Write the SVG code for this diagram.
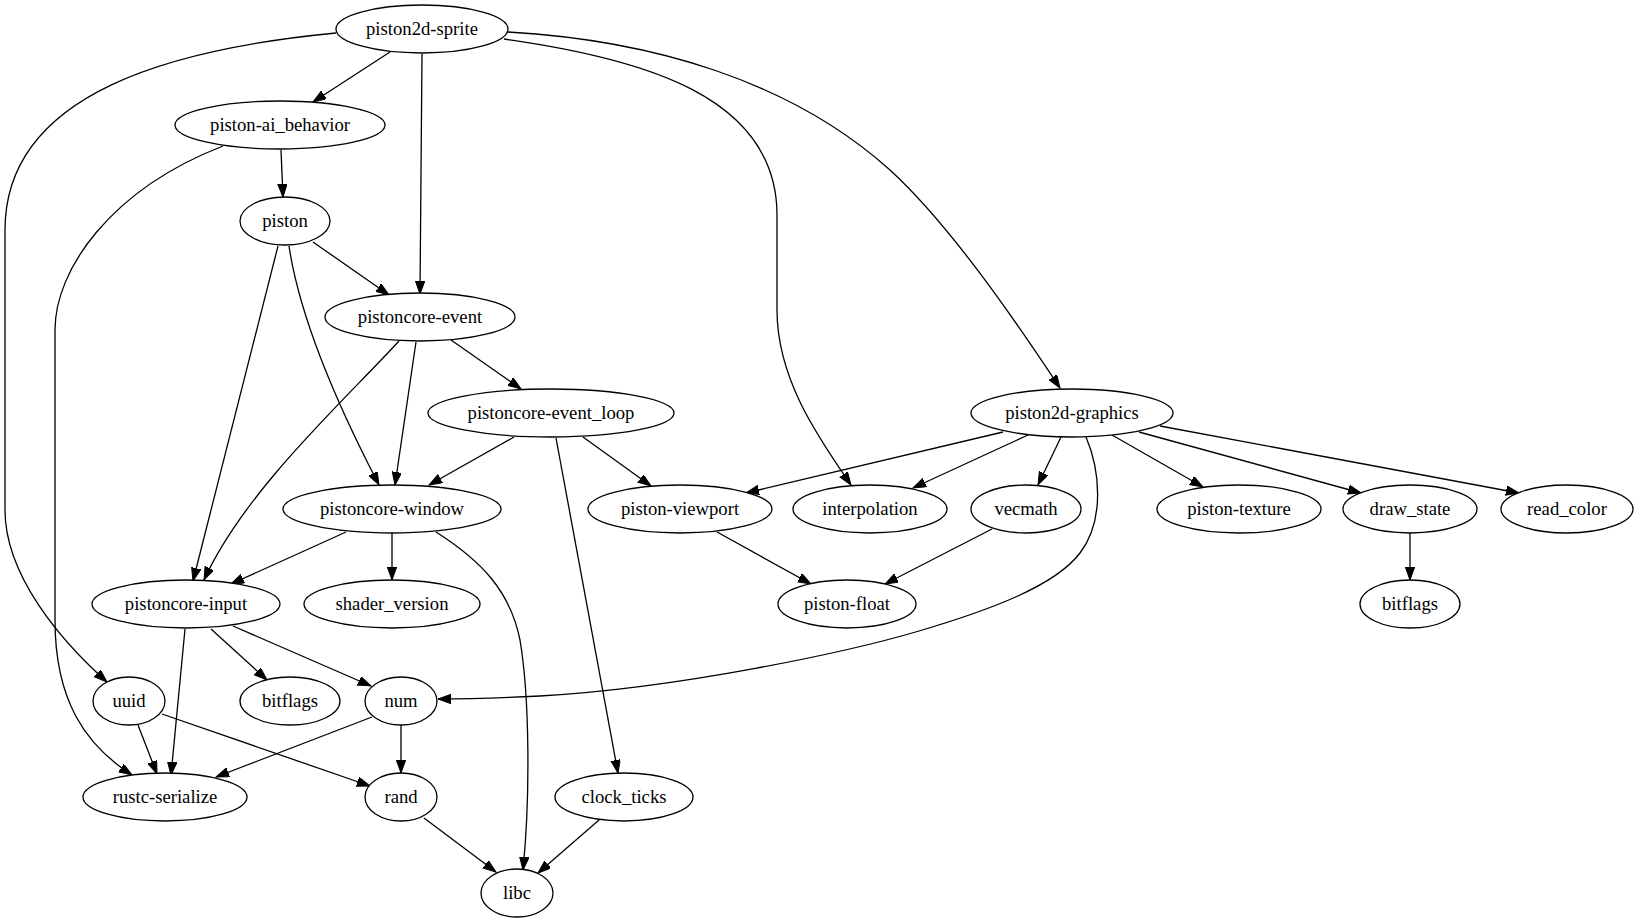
<svg xmlns="http://www.w3.org/2000/svg" width="1637" height="923" viewBox="0 0 1637 923">
<style>
.n ellipse{fill:#fff;stroke:#000;stroke-width:1.3}
.n text{font-family:"Liberation Serif","Times New Roman",serif;font-size:18.67px;text-anchor:middle;fill:#000}
#edges path{fill:none;stroke:#000;stroke-width:1.3;marker-end:url(#arr)}
</style>
<defs>
<marker id="arr" markerUnits="userSpaceOnUse" markerWidth="14" markerHeight="10" refX="13" refY="4.7" orient="auto"><path d="M0,0 L13,4.7 L0,9.4 z" fill="#000" stroke="#000" stroke-width="1"/></marker>
</defs>
<rect width="1637" height="923" fill="#fff"/>
<g id="edges">
<path d="M390,52 L313,102"/>
<path d="M422,54 L420,294"/>
<path d="M336,33 C180,48 5,90 5,230 L5,510 C5,575 60,640 107,682"/>
<path d="M504,39 C640,58 777,95 777,215 L777,310 C777,380 820,440 851,485"/>
<path d="M508,32 C650,40 790,80 890,170 C950,225 1015,320 1060,388"/>
<path d="M281,150 L283,197"/>
<path d="M223,146 C110,190 55,270 55,330 L55,620 C55,700 85,745 132,775"/>
<path d="M313,242 L389,295"/>
<path d="M278,246 L193,581"/>
<path d="M289,246 C300,320 340,410 379,485"/>
<path d="M416,342 L395,485"/>
<path d="M399,341 C345,400 245,490 204,580"/>
<path d="M451,340 L521,389"/>
<path d="M514,437 L429,485"/>
<path d="M583,437 L651,486"/>
<path d="M556,438 L618,773"/>
<path d="M346,532 L231,584"/>
<path d="M392,533 L392,580"/>
<path d="M436,532 C480,560 510,590 520,640 C530,700 530,800 523,870"/>
<path d="M185,629 L171,775"/>
<path d="M211,629 L267,680"/>
<path d="M233,626 L371,686"/>
<path d="M138,725 L157,774"/>
<path d="M162,714 L370,786"/>
<path d="M372,717 L216,777"/>
<path d="M401,725 L401,773"/>
<path d="M424,818 L496,872"/>
<path d="M599,820 L538,873"/>
<path d="M1003,432 L746,493"/>
<path d="M1028,435 L913,488"/>
<path d="M1061,437 L1038,485"/>
<path d="M1086,437 C1100,470 1105,520 1080,553 C1055,586 990,610 919,631 C848,652 680,688 540,696 C500,698 470,699 438,699"/>
<path d="M1112,435 L1203,487"/>
<path d="M1139,432 L1361,493"/>
<path d="M1160,426 L1519,493"/>
<path d="M717,532 L811,584"/>
<path d="M992,529 L885,584"/>
<path d="M1410,533 L1410,580"/>
</g>
<g id="piston2d-sprite" class="n"><ellipse cx="422" cy="29" rx="86" ry="24"/><text x="422" y="35">piston2d-sprite</text></g>
<g id="piston-ai_behavior" class="n"><ellipse cx="280" cy="125" rx="105" ry="24"/><text x="280" y="131">piston-ai_behavior</text></g>
<g id="piston" class="n"><ellipse cx="285" cy="221" rx="45" ry="24"/><text x="285" y="227">piston</text></g>
<g id="pistoncore-event" class="n"><ellipse cx="420" cy="317" rx="95" ry="24"/><text x="420" y="323">pistoncore-event</text></g>
<g id="pistoncore-event_loop" class="n"><ellipse cx="551" cy="413" rx="123" ry="24"/><text x="551" y="419">pistoncore-event_loop</text></g>
<g id="piston2d-graphics" class="n"><ellipse cx="1072" cy="413" rx="101" ry="24"/><text x="1072" y="419">piston2d-graphics</text></g>
<g id="pistoncore-window" class="n"><ellipse cx="392" cy="509" rx="109" ry="24"/><text x="392" y="515">pistoncore-window</text></g>
<g id="piston-viewport" class="n"><ellipse cx="680" cy="509" rx="92" ry="24"/><text x="680" y="515">piston-viewport</text></g>
<g id="interpolation" class="n"><ellipse cx="870" cy="509" rx="77" ry="24"/><text x="870" y="515">interpolation</text></g>
<g id="vecmath" class="n"><ellipse cx="1026" cy="509" rx="55" ry="24"/><text x="1026" y="515">vecmath</text></g>
<g id="piston-texture" class="n"><ellipse cx="1239" cy="509" rx="82" ry="24"/><text x="1239" y="515">piston-texture</text></g>
<g id="draw_state" class="n"><ellipse cx="1410" cy="509" rx="67" ry="24"/><text x="1410" y="515">draw_state</text></g>
<g id="read_color" class="n"><ellipse cx="1567" cy="509" rx="66" ry="24"/><text x="1567" y="515">read_color</text></g>
<g id="pistoncore-input" class="n"><ellipse cx="186" cy="604" rx="94" ry="24"/><text x="186" y="610">pistoncore-input</text></g>
<g id="shader_version" class="n"><ellipse cx="392" cy="604" rx="88" ry="24"/><text x="392" y="610">shader_version</text></g>
<g id="piston-float" class="n"><ellipse cx="847" cy="604" rx="69" ry="24"/><text x="847" y="610">piston-float</text></g>
<g id="bitflags-draw" class="n"><ellipse cx="1410" cy="604" rx="50" ry="24"/><text x="1410" y="610">bitflags</text></g>
<g id="uuid" class="n"><ellipse cx="129" cy="701" rx="36" ry="24"/><text x="129" y="707">uuid</text></g>
<g id="bitflags-input" class="n"><ellipse cx="290" cy="701" rx="50" ry="24"/><text x="290" y="707">bitflags</text></g>
<g id="num" class="n"><ellipse cx="401" cy="701" rx="36" ry="24"/><text x="401" y="707">num</text></g>
<g id="rustc-serialize" class="n"><ellipse cx="165" cy="797" rx="82" ry="24"/><text x="165" y="803">rustc-serialize</text></g>
<g id="rand" class="n"><ellipse cx="401" cy="797" rx="36" ry="24"/><text x="401" y="803">rand</text></g>
<g id="clock_ticks" class="n"><ellipse cx="624" cy="797" rx="69" ry="24"/><text x="624" y="803">clock_ticks</text></g>
<g id="libc" class="n"><ellipse cx="517" cy="893" rx="36" ry="24"/><text x="517" y="899">libc</text></g>
</svg>
